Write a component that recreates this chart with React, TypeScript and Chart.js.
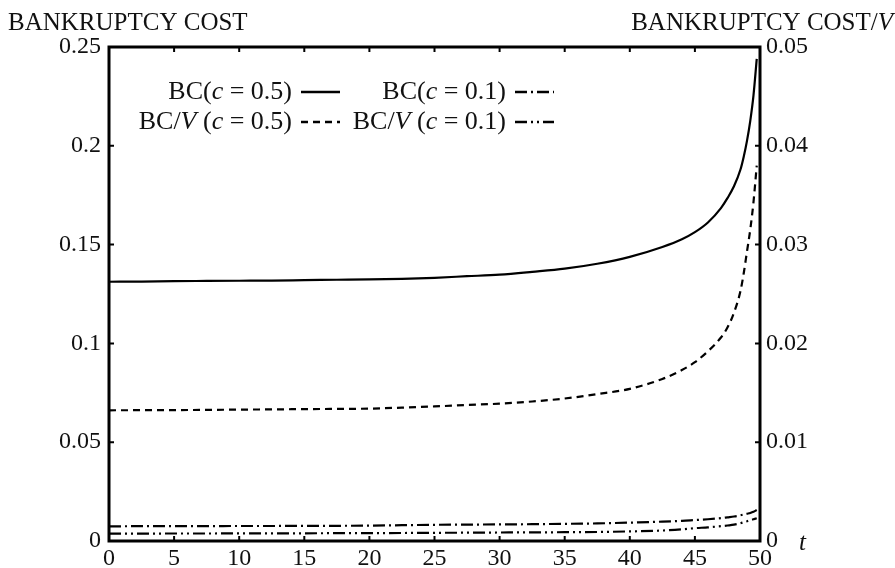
import React, { useEffect, useRef } from "react";
import { Chart, registerables } from "chart.js";

Chart.register(...registerables);

// ---- data ----
const tValues = [0, 2.5, 5, 7.5, 10, 12.5, 15, 17.5, 20, 22.5, 25, 27.5, 30, 32.5, 35, 37.5, 40, 42.5, 44, 45, 46, 47, 47.5, 48, 48.5, 48.75, 49, 49.25, 49.5, 49.75];
const bcC05 = [0.1312, 0.1313, 0.1315, 0.1316, 0.1317, 0.1318, 0.132, 0.1322, 0.1324, 0.1327, 0.1332, 0.134, 0.1348, 0.1362, 0.1378, 0.1403, 0.1438, 0.1488, 0.1527, 0.1563, 0.1612, 0.1685, 0.1735, 0.1795, 0.188, 0.1945, 0.2025, 0.2125, 0.2255, 0.244];
const bcvC05 = [0.01323, 0.01324, 0.01325, 0.01327, 0.0133, 0.01332, 0.01335, 0.01337, 0.0134, 0.0135, 0.01362, 0.01377, 0.0139, 0.01412, 0.01442, 0.01487, 0.0154, 0.0164, 0.0173, 0.0181, 0.0192, 0.0206, 0.0216, 0.0231, 0.0253, 0.0271, 0.0293, 0.0315, 0.0343, 0.038];
const bcC01 = [0.0074, 0.0075, 0.0075, 0.0075, 0.0076, 0.0076, 0.0077, 0.0077, 0.0078, 0.008, 0.0082, 0.0083, 0.0084, 0.0085, 0.0087, 0.0089, 0.0093, 0.0098, 0.0102, 0.0106, 0.011, 0.0116, 0.012, 0.0124, 0.013, 0.0134, 0.0138, 0.0142, 0.0148, 0.0157];
const bcvC01 = [0.00075, 0.00075, 0.00076, 0.00076, 0.00077, 0.00077, 0.00078, 0.00079, 0.0008, 0.00081, 0.00083, 0.00084, 0.00086, 0.00087, 0.00089, 0.00091, 0.00097, 0.00106, 0.00118, 0.0013, 0.00138, 0.0015, 0.00157, 0.00165, 0.0018, 0.0019, 0.002, 0.0021, 0.0022, 0.0023];

const xTickLabels = ["0", "5", "10", "15", "20", "25", "30", "35", "40", "45", "50"];
const leftTickLabels = ["0", "0.05", "0.1", "0.15", "0.2", "0.25"];
const rightTickLabels = ["0", "0.01", "0.02", "0.03", "0.04", "0.05"];

const FONT = '"Liberation Serif", "DejaVu Serif", serif';
const DASHED = [7, 5];
const DASHDOT = [12, 4, 2, 4];
const DASHDOTDOT = [12, 4, 2, 4, 2, 4];

type Seg = [string, boolean];

function drawRich(ctx: CanvasRenderingContext2D, segs: Seg[], x: number, y: number, size: number, align: "left" | "right") {
  let total = 0;
  const widths: number[] = [];
  for (const [txt, it] of segs) {
    ctx.font = `${it ? "italic " : ""}${size}px ${FONT}`;
    const w = ctx.measureText(txt).width;
    widths.push(w);
    total += w;
  }
  let cx = align === "right" ? x - total : x;
  ctx.textAlign = "left";
  segs.forEach(([txt, it], i) => {
    ctx.font = `${it ? "italic " : ""}${size}px ${FONT}`;
    ctx.fillText(txt, cx, y);
    cx += widths[i];
  });
}

const framePlugin = {
  id: "frame",
  afterDraw(chart: any) {
    const ctx: CanvasRenderingContext2D = chart.ctx;
    const { left, right, top, bottom } = chart.chartArea;
    const xs = chart.scales.x;
    const yl = chart.scales.y;
    const yr = chart.scales.y2;
    ctx.save();
    ctx.strokeStyle = "#000";
    // inward ticks
    ctx.lineWidth = 2;
    ctx.beginPath();
    const tl = 5;
    xs.ticks.forEach((t: any) => {
      const px = xs.getPixelForValue(t.value);
      ctx.moveTo(px, bottom);
      ctx.lineTo(px, bottom - tl);
      ctx.moveTo(px, top);
      ctx.lineTo(px, top + tl);
    });
    yl.ticks.forEach((t: any) => {
      const py = yl.getPixelForValue(t.value);
      ctx.moveTo(left, py);
      ctx.lineTo(left + tl, py);
    });
    yr.ticks.forEach((t: any) => {
      const py = yr.getPixelForValue(t.value);
      ctx.moveTo(right, py);
      ctx.lineTo(right - tl, py);
    });
    ctx.stroke();
    // frame
    ctx.lineWidth = 3;
    ctx.strokeRect(left, top, right - left, bottom - top);

    // titles
    ctx.fillStyle = "#111";
    ctx.textBaseline = "middle";
    drawRich(ctx, [["BANKRUPTCY COST", false]], 8, 23, 25, "left");
    drawRich(ctx, [["BANKRUPTCY COST/", false], ["V", true]], 893, 23, 25, "right");
    drawRich(ctx, [["t", true]], right + 39, bottom + 2, 25, "left");

    // legend
    const rows = [
      { segs: [["BC(", false], ["c", true], [" = 0.5)", false]] as Seg[], x: left + 183, y: top + 45, dash: [] as number[] },
      { segs: [["BC/", false], ["V", true], [" (", false], ["c", true], [" = 0.5)", false]] as Seg[], x: left + 183, y: top + 75, dash: DASHED },
      { segs: [["BC(", false], ["c", true], [" = 0.1)", false]] as Seg[], x: left + 397, y: top + 45, dash: DASHDOT },
      { segs: [["BC/", false], ["V", true], [" (", false], ["c", true], [" = 0.1)", false]] as Seg[], x: left + 397, y: top + 75, dash: DASHDOTDOT },
    ];
    rows.forEach((r) => {
      ctx.fillStyle = "#111";
      drawRich(ctx, r.segs, r.x, r.y, 26, "right");
      ctx.setLineDash(r.dash);
      ctx.lineWidth = 2.4;
      ctx.beginPath();
      ctx.moveTo(r.x + 9, r.y);
      ctx.lineTo(r.x + 48, r.y);
      ctx.stroke();
      ctx.setLineDash([]);
    });
    ctx.restore();
  },
};

export default function App() {
  const ref = useRef<HTMLCanvasElement | null>(null);
  useEffect(() => {
    if (!ref.current) return;
    const mk = (vals: number[]) => tValues.map((t, i) => ({ x: t, y: vals[i] }));
    const common = { pointRadius: 0, borderColor: "#000", borderWidth: 2.2, cubicInterpolationMode: "monotone" as const, fill: false };
    const chart = new Chart(ref.current, {
      type: "line",
      data: {
        datasets: [
          { ...common, label: "BC(c=0.5)", data: mk(bcC05), yAxisID: "y" },
          { ...common, label: "BC/V(c=0.5)", data: mk(bcvC05), yAxisID: "y2", borderDash: DASHED },
          { ...common, label: "BC(c=0.1)", data: mk(bcC01), yAxisID: "y", borderDash: DASHDOT },
          { ...common, label: "BC/V(c=0.1)", data: mk(bcvC01), yAxisID: "y2", borderDash: DASHDOTDOT },
        ],
      },
      options: {
        responsive: false,
        animation: false,
        layout: { padding: { top: 47, left: 0, right: 0, bottom: 0 } },
        plugins: { legend: { display: false }, tooltip: { enabled: false } },
        scales: {
          x: {
            type: "linear",
            min: 0,
            max: 50,
            grid: { display: false, drawTicks: false },
            border: { display: false },
            ticks: {
              stepSize: 5,
              padding: 3,
              color: "#111",
              font: { family: FONT, size: 24 },
              callback: (_v: any, i: number) => xTickLabels[i],
              maxRotation: 0,
            },
            afterFit: (s: any) => { s.height = 27; },
          },
          y: {
            position: "left",
            min: 0,
            max: 0.25,
            grid: { display: false, drawTicks: false },
            border: { display: false },
            ticks: {
              stepSize: 0.05,
              padding: 8,
              color: "#111",
              font: { family: FONT, size: 24 },
              callback: (_v: any, i: number) => leftTickLabels[i],
            },
            afterFit: (s: any) => { s.width = 109; },
          },
          y2: {
            position: "right",
            min: 0,
            max: 0.05,
            grid: { display: false, drawTicks: false },
            border: { display: false },
            ticks: {
              stepSize: 0.01,
              padding: 6,
              color: "#111",
              font: { family: FONT, size: 24 },
              callback: (_v: any, i: number) => rightTickLabels[i],
            },
            afterFit: (s: any) => { s.width = 135; },
          },
        },
      },
      plugins: [framePlugin],
    });
    return () => chart.destroy();
  }, []);
  return (
    <div style={{ position: "fixed", left: 0, top: 0, width: 895, height: 568, background: "#fff" }}>
      <canvas ref={ref} width={895} height={568} style={{ display: "block" }} />
    </div>
  );
}
